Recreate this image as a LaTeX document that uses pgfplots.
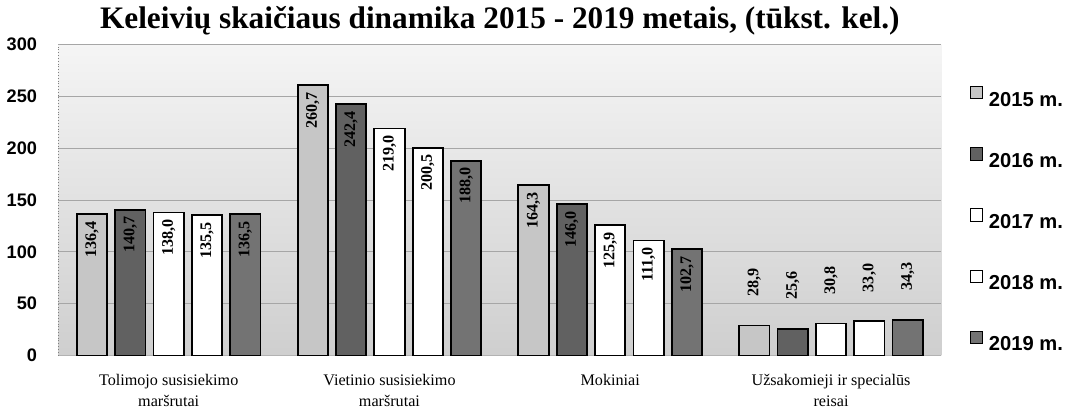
\documentclass[border=0pt]{standalone}
\usepackage{pgfplots}
\pgfplotsset{compat=1.18}
\usepackage{fontspec}
\setmainfont{Liberation Serif}
\setsansfont{Liberation Sans}
\pgfplotsset{
  common/.style={
    scale only axis,
    width=437.5pt, height=154pt,
    ybar=4pt, bar width=15pt,
    xmin=-0.5, xmax=3.5, ymin=0, ymax=300,
    nodes near coords={\pgfmathprintnumber[fixed,fixed zerofill,precision=1,use comma,assume math mode=true]{\pgfplotspointmeta}},
    every node near coord/.append style={font=\bfseries\fontsize{8}{9}\selectfont, rotate=90, text=black},
  },
  s15/.style={fill=gray!45, draw=black, line width=0.9pt},
  s16/.style={fill=black!62, draw=black, line width=0.9pt},
  s17/.style={fill=white, draw=black, line width=0.9pt},
  s18/.style={fill=white, draw=black, line width=0.9pt},
  s19/.style={fill=black!55, draw=black, line width=0.9pt},
}
\begin{document}
\begin{tikzpicture}
\begin{axis}[
  common,
  every node near coord/.append style={anchor=east, inner xsep=3pt},
  xtick={0,1,2,3},
  xticklabels={{Tolimojo susisiekimo\\maršrutai},{Vietinio susisiekimo\\maršrutai},{Mokiniai},{Užsakomieji ir specialūs\\reisai}},
  xticklabel style={align=center, font=\fontsize{8}{10}\selectfont, yshift=-6pt, text depth=0pt},
  ytick={0,50,...,300},
  yticklabel style={font=\sffamily\bfseries\fontsize{9}{10}\selectfont, xshift=-7pt},
  /pgf/number format/assume math mode=true,
  major tick length=0pt,
  axis x line*=bottom,
  axis y line*=left,
  x axis line style={draw=gray!60},
  y axis line style={draw=gray, densely dotted},
  ymajorgrids,
  grid style={gray!70, thin},
  axis background/.style={shade, top color=gray!8, bottom color=gray!38},
  title={Keleivių skaičiaus dinamika 2015 - 2019 metais, (tūkst. kel.)},
  title style={font=\bfseries\fontsize{15.5}{17}\selectfont, yshift=-5pt},
  legend style={at={(1.025,0.88)}, anchor=north west, draw=none, fill=none,
    font=\sffamily\bfseries\fontsize{10}{11}\selectfont,
    nodes={inner sep=0pt, text height=7.5pt, text depth=0pt},
    row sep=20.3pt, column sep=3pt},
  legend cell align=left,
  legend image code/.code={\draw[#1, line width=0.4pt] (0pt,0pt) rectangle (6pt,6pt);},
]
\addplot[s15] coordinates {(0,136.4) (1,260.7) (2,164.3)};
\addplot[s16] coordinates {(0,140.7) (1,242.4) (2,146.0)};
\addplot[s17] coordinates {(0,138.0) (1,219.0) (2,125.9)};
\addplot[s18] coordinates {(0,135.5) (1,200.5) (2,111.0)};
\addplot[s19] coordinates {(0,136.5) (1,188.0) (2,102.7)};
\legend{2015 m.,2016 m.,2017 m.,2018 m.,2019 m.}
\end{axis}
\begin{axis}[
  common,
  hide axis,
  every node near coord/.append style={anchor=west, inner xsep=14pt},
]
\addplot[s15] coordinates {(3,28.9)};
\addplot[s16] coordinates {(3,25.6)};
\addplot[s17] coordinates {(3,30.8)};
\addplot[s18] coordinates {(3,33.0)};
\addplot[s19] coordinates {(3,34.3)};
\end{axis}
\end{tikzpicture}
\end{document}
